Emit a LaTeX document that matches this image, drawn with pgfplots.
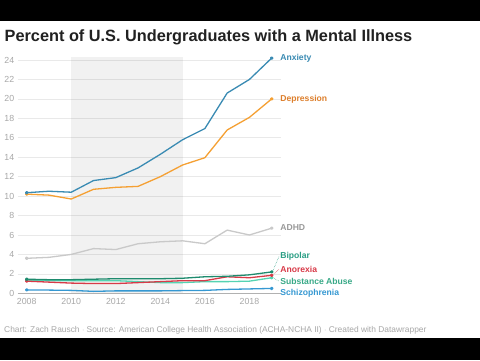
\documentclass[border=0pt]{standalone}
\usepackage{pgfplots}
\pgfplotsset{compat=1.18}
\usepackage{fontspec}
\setmainfont{Liberation Sans}
\definecolor{anx}{HTML}{3A8BB3}
\definecolor{dep}{HTML}{F5A033}
\definecolor{depl}{HTML}{DD7F2C}
\definecolor{adhd}{HTML}{C9C9C9}
\definecolor{adhdl}{HTML}{999999}
\definecolor{bip}{HTML}{1E8B6E}
\definecolor{bipl}{HTML}{2A9E84}
\definecolor{ano}{HTML}{D83A48}
\definecolor{sub}{HTML}{55D3B2}
\definecolor{subl}{HTML}{38A987}
\definecolor{sch}{HTML}{3598D2}
\definecolor{tick}{HTML}{A8A8A8}
\definecolor{gridc}{HTML}{E9E9E9}
\begin{document}
\begin{tikzpicture}[x=1pt,y=1pt]
\useasboundingbox (0,0) rectangle (480,360);
\fill[white] (0,0) rectangle (480,360);
\fill[black] (0,339) rectangle (480,360);
\fill[black] (0,0) rectangle (480,22);
\node[anchor=base west,font=\fontsize{16.3}{18}\selectfont\bfseries,text=black!87,inner sep=0] at (4.5,318.5) {Percent of U.S. Undergraduates with a Mental Illness};
\node[anchor=base west,font=\fontsize{8.4}{10}\selectfont,text=tick,inner sep=0] at (4,27.3) {Chart: Zach Rausch $\cdot$ Source: American College Health Association (ACHA-NCHA II) $\cdot$ Created with Datawrapper};
\begin{axis}[
  at={(17.8pt,66.7pt)}, anchor=south west,
  scale only axis, width=262.8pt, height=236.2pt,
  xmin=2007.6, xmax=2019.4, ymin=0, ymax=24.3,
  axis line style={draw=none},
  xtick={2008,2010,...,2018}, ytick={0,2,...,24},
  xticklabel style={/pgf/number format/1000 sep={}, yshift=-1.5pt},
  major tick length=0pt,
  ymajorgrids, grid style={gridc, line width=0.6pt},
  tick label style={font=\fontsize{8.8}{10}\selectfont, text=tick},
  /pgf/number format/assume math mode=true,
  clip=false,
  every axis plot/.style={line width=1.3pt, line join=round, mark=*, mark size=1.1pt, mark indices={1,12}},
]
\fill[black, opacity=0.055] (axis cs:2010,0) rectangle (axis cs:2015,24.3);
\draw[tick!90, line width=1.6pt] (axis cs:2007.6,0) -- (axis cs:2019.4,0);
\addplot[adhd] coordinates {(2008,3.6)(2009,3.7)(2010,4.0)(2011,4.6)(2012,4.5)(2013,5.1)(2014,5.3)(2015,5.4)(2016,5.1)(2017,6.5)(2018,6.0)(2019,6.7)};
\addplot[sch] coordinates {(2008,0.35)(2009,0.33)(2010,0.3)(2011,0.2)(2012,0.25)(2013,0.25)(2014,0.25)(2015,0.28)(2016,0.3)(2017,0.4)(2018,0.45)(2019,0.5)};
\addplot[sub] coordinates {(2008,1.35)(2009,1.3)(2010,1.3)(2011,1.3)(2012,1.3)(2013,1.2)(2014,1.1)(2015,1.1)(2016,1.2)(2017,1.2)(2018,1.25)(2019,1.6)};
\addplot[ano] coordinates {(2008,1.25)(2009,1.15)(2010,1.05)(2011,1.0)(2012,1.0)(2013,1.1)(2014,1.2)(2015,1.3)(2016,1.3)(2017,1.7)(2018,1.6)(2019,1.85)};
\addplot[bip] coordinates {(2008,1.45)(2009,1.4)(2010,1.4)(2011,1.45)(2012,1.5)(2013,1.5)(2014,1.5)(2015,1.55)(2016,1.7)(2017,1.75)(2018,1.9)(2019,2.2)};
\addplot[dep] coordinates {(2008,10.2)(2009,10.1)(2010,9.7)(2011,10.7)(2012,10.9)(2013,11.0)(2014,12.0)(2015,13.2)(2016,13.95)(2017,16.8)(2018,18.1)(2019,20.0)};
\addplot[anx] coordinates {(2008,10.35)(2009,10.5)(2010,10.4)(2011,11.6)(2012,11.9)(2013,12.9)(2014,14.3)(2015,15.8)(2016,16.95)(2017,20.6)(2018,22.0)(2019,24.2)};
\begin{scope}[every node/.style={anchor=west, font=\fontsize{8.6}{10}\selectfont\bfseries, inner sep=0}]
\node[text=anx] at (axis cs:2019.38,24.2) {Anxiety};
\node[text=depl] at (axis cs:2019.38,20.0) {Depression};
\node[text=adhdl] at (axis cs:2019.38,6.8) {ADHD};
\node[text=bipl] at (axis cs:2019.38,3.8) {Bipolar};
\node[text=ano] at (axis cs:2019.38,2.45) {Anorexia};
\node[text=subl] at (axis cs:2019.38,1.25) {Substance Abuse};
\node[text=sch] at (axis cs:2019.38,0.05) {Schizophrenia};
\end{scope}
\draw[bipl, densely dotted, line width=0.5pt] (axis cs:2019.05,2.3) -- (axis cs:2019.33,3.8);
\draw[ano, densely dotted, line width=0.5pt] (axis cs:2019.05,1.9) -- (axis cs:2019.33,2.45);
\draw[subl, densely dotted, line width=0.5pt] (axis cs:2019.05,1.6) -- (axis cs:2019.33,1.25);
\end{axis}
\end{tikzpicture}
\end{document}
